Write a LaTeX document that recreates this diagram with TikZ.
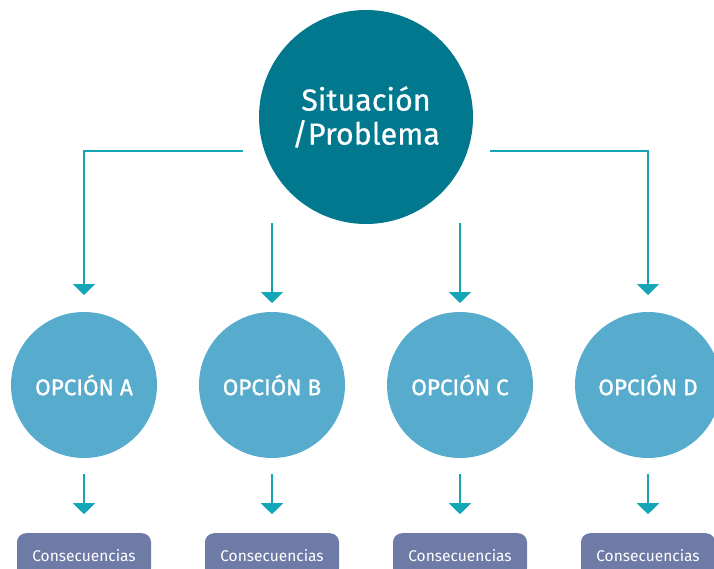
\documentclass[tikz,border=0pt]{standalone}
\usepackage{fontspec}
\setmainfont{Fira Sans}
\newfontfamily\medfont{Fira Sans}[FakeBold=0.6]
\newfontfamily\semifont{Fira Sans}[FakeBold=1.3]
\usetikzlibrary{arrows.meta}
\definecolor{darkteal}{HTML}{01788E}
\definecolor{optblue}{HTML}{57ACCD}
\definecolor{arrowc}{HTML}{14A6B6}
\definecolor{boxc}{HTML}{6F7BA7}
\tikzset{
  main/.style={circle,fill=darkteal,minimum size=214pt,inner sep=0pt,text=white,align=center,font=\medfont\fontsize{30.5}{34}\selectfont},
  opt/.style={circle,fill=optblue,minimum size=146pt,inner sep=0pt,text=white,font=\semifont\fontsize{22.5}{26}\selectfont},
  cons/.style={rectangle,rounded corners=9pt,fill=boxc,minimum width=134pt,minimum height=44pt,inner sep=0pt,text=white,font=\fontsize{15.5}{18}\selectfont},
  conn/.style={draw=arrowc,line width=2pt,-{Triangle[width=22pt,length=11pt]}},
}
\begin{document}
\begin{tikzpicture}[x=1pt,y=-1pt]
\useasboundingbox (0,0) rectangle (714,569);
\clip (0,0) rectangle (714,569);
\node[main] (sit) at (366,117) {Situación\\/Problema};
\node[opt] (a) at (84,385) {OPCIÓN A};
\node[opt] (b) at (272,385) {OPCIÓN B};
\node[opt] (c) at (460,385) {OPCIÓN C};
\node[opt] (d) at (648,385) {OPCIÓN D};
\node[cons,anchor=north] (ca) at (84,533) {Consecuencias};
\node[cons,anchor=north] (cb) at (272,533) {Consecuencias};
\node[cons,anchor=north] (cc) at (460,533) {Consecuencias};
\node[cons,anchor=north] (cd) at (648,533) {Consecuencias};
\coordinate (la) at (243,151);
\coordinate (ra) at (490,151);
\coordinate (ta) at (84,295);
\coordinate (td) at (648,295);
\coordinate (sb) at (272,223);
\coordinate (tb) at (272,303);
\coordinate (sc) at (460,223);
\coordinate (tc) at (460,303);
\draw[conn] (la) -| (ta);
\draw[conn] (ra) -| (td);
\draw[conn] (sb) -- (tb);
\draw[conn] (sc) -- (tc);
\foreach \n in {a,b,c,d}{
  \path (\n.south) ++(0,16) coordinate (s\n2);
  \path (\n.south) ++(0,56) coordinate (t\n2);
  \draw[conn] (s\n2) -- (t\n2);
}
\end{tikzpicture}
\end{document}
